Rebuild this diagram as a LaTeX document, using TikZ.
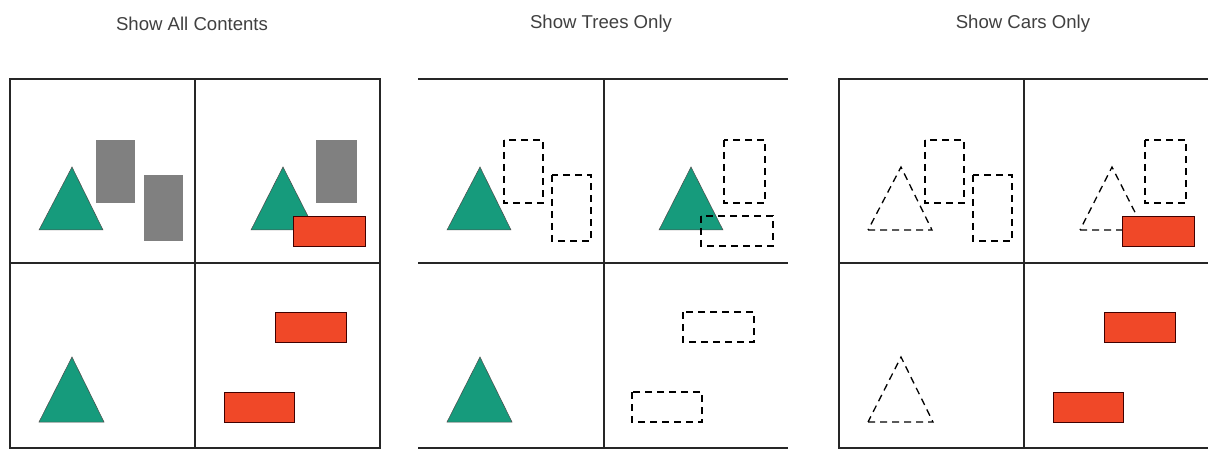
\documentclass[tikz,border=0pt]{standalone}
\usepackage{fontspec}
\setmainfont{Liberation Sans}
\definecolor{treeteal}{RGB}{22,155,124}
\definecolor{housegray}{RGB}{128,128,128}
\definecolor{carred}{RGB}{240,72,40}
\tikzset{
  frameline/.style={line width=1.4pt, black!85},
  treefill/.style={fill=treeteal, draw=black!70, line width=0.5pt},
  treedash/.style={draw=black, line width=1.3pt, dash pattern=on 7pt off 5pt},
  housefill/.style={fill=housegray},
  housedash/.style={draw=black, line width=1.3pt, dash pattern=on 7pt off 5pt},
  carfill/.style={fill=carred, draw=black!75!red, line width=0.8pt},
  cardash/.style={draw=black, line width=1.3pt, dash pattern=on 7pt off 5pt},
  titletext/.style={font=\fontsize{18.6}{20}\selectfont, text=black!75, inner sep=0pt}
}
\begin{document}
\begin{tikzpicture}[x=1pt,y=-1pt]
\useasboundingbox (0,0) rectangle (1208,449);
\fill[white] (0,0) rectangle (1208,449);

% titles
\node[titletext] (t1) at (192,24) {Show All Contents};
\node[titletext] (t2) at (601,24) {Show Trees Only};
\node[titletext] (t3) at (1023,24) {Show Cars Only};

% ---------- panel 1: all contents ----------
\begin{scope}
\path[treefill] (39,230) -- (103,230) -- (72,167) -- cycle;
\path[housefill] (96,140) rectangle (135,203);
\path[housefill] (144,175) rectangle (183,241);
\path[treefill] (251,230) -- (315,230) -- (283,167) -- cycle;
\path[housefill] (316,140) rectangle (357,203);
\path[carfill] (293,216) rectangle (365,246);
\path[treefill] (39,422) -- (104,422) -- (72,357) -- cycle;
\path[carfill] (275,312) rectangle (346,342);
\path[carfill] (224,392) rectangle (294,422);
\draw[frameline] (10,79) rectangle (380,448);
\draw[frameline] (195,79) -- (195,448);
\draw[frameline] (10,263) -- (380,263);
\end{scope}

% ---------- panel 2: trees only ----------
\begin{scope}[xshift=408pt]
\path[treefill] (39,230) -- (103,230) -- (72,167) -- cycle;
\path[housedash] (96,140) rectangle (135,203);
\path[housedash] (144,175) rectangle (183,241);
\path[treefill] (251,230) -- (315,230) -- (283,167) -- cycle;
\path[housedash] (316,140) rectangle (357,203);
\path[cardash] (293,216) rectangle (365,246);
\path[treefill] (39,422) -- (104,422) -- (72,357) -- cycle;
\path[cardash] (275,312) rectangle (346,342);
\path[cardash] (224,392) rectangle (294,422);
\draw[frameline] (10,79) -- (380,79);
\draw[frameline] (10,263) -- (380,263);
\draw[frameline] (10,448) -- (380,448);
\draw[frameline] (196,79) -- (196,448);
\end{scope}

% ---------- panel 3: cars only ----------
\begin{scope}[xshift=829pt]
\path[treedash] (39,230) -- (103,230) -- (72,167) -- cycle;
\path[housedash] (96,140) rectangle (135,203);
\path[housedash] (144,175) rectangle (183,241);
\path[treedash] (251,230) -- (315,230) -- (283,167) -- cycle;
\path[housedash] (316,140) rectangle (357,203);
\path[carfill] (293,216) rectangle (365,246);
\path[treedash] (39,422) -- (104,422) -- (72,357) -- cycle;
\path[carfill] (275,312) rectangle (346,342);
\path[carfill] (224,392) rectangle (294,422);
\draw[frameline] (10,79) rectangle (380,448);
\draw[frameline] (195,79) -- (195,448);
\draw[frameline] (10,263) -- (380,263);
\end{scope}
\end{tikzpicture}
\end{document}
